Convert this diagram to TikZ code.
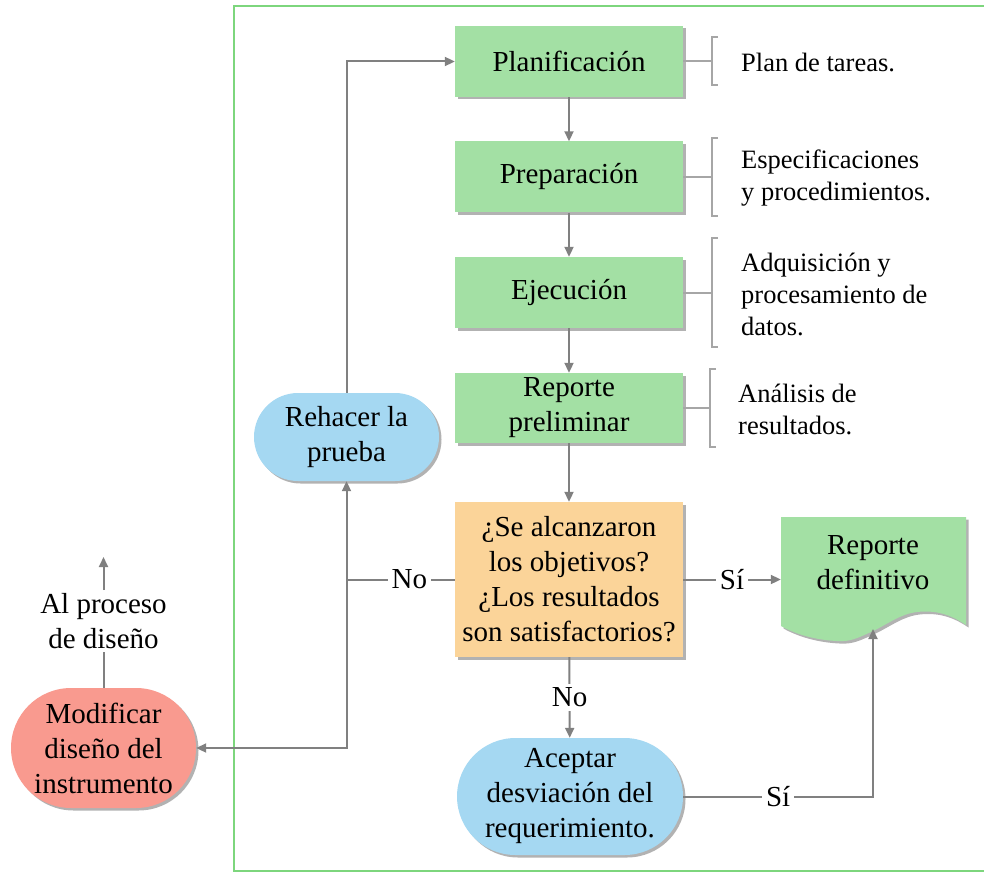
\documentclass[tikz,border=0pt]{standalone}
\usepackage{fontspec}
\setmainfont{Liberation Serif}
\usetikzlibrary{shadows,arrows.meta,shapes.misc}
\definecolor{gbox}{RGB}{163,224,164}
\definecolor{obox}{RGB}{251,212,153}
\definecolor{bbox}{RGB}{165,216,242}
\definecolor{rbox}{RGB}{249,154,143}
\definecolor{framec}{RGB}{125,214,125}
\definecolor{lgray}{RGB}{128,128,128}
\definecolor{bgray}{RGB}{166,166,166}
\begin{document}
\begin{tikzpicture}[x=1pt,y=-1pt,
  every node/.style={font=\fontsize{29}{35}\selectfont, inner sep=0pt},
  shd/.style={drop shadow={shadow xshift=2.5pt,shadow yshift=-2.5pt,opacity=0.3,fill=black}},
  box/.style={fill=gbox, minimum width=228pt, minimum height=71pt, align=center, shd},
  decbox/.style={fill=obox, minimum width=228pt, minimum height=155pt, align=center, shd},
  term/.style={rounded rectangle, align=center, shd},
  arr/.style={draw=lgray, line width=2pt, -{Triangle[length=10pt,width=9pt]}},
  ln/.style={draw=lgray, line width=2pt},
  brk/.style={draw=bgray, line width=2pt},
  note/.style={font=\fontsize{26.5}{32}\selectfont, align=left, anchor=west},
  lbl/.style={fill=white, inner sep=4pt}
]
\useasboundingbox (0,0) rectangle (984,877);
\draw[framec, line width=2pt] (984,6) -- (234,6) -- (234,871) -- (984,871);

% main boxes
\node[box] (plan) at (569,61.5) {Planificación};
\node[box] (prep) at (569,177) {Preparación};
\node[box] (ejec) at (569,292.5) {Ejecución};
\node[box, minimum height=70pt] (rep) at (569,408) {Reporte\\preliminar};
\node[decbox] (dec) at (569,579.5) {¿Se alcanzaron\\los objetivos?\\¿Los resultados\\son satisfactorios?};
\node[term, fill=bbox, minimum width=226pt, minimum height=117pt] (acep) at (570,796.5) {Aceptar\\desviación del\\requerimiento.};
\node[term, fill=bbox, minimum width=185pt, minimum height=88pt] (reh) at (346.5,437) {Rehacer la\\prueba};
\node[term, fill=rbox, minimum width=185pt, minimum height=120pt] (mod) at (103.5,748) {Modificar\\diseño del\\instrumento};
\node[align=center, inner sep=3pt] (alp) at (103.5,621) {Al proceso\\de diseño};
\coordinate (alpup) at (103.5,557);

% document shape
\path[fill=gbox, shd] (781,517) -- (966,517) -- (966,625)
  .. controls (950,614) and (935,610) .. (917,612)
  .. controls (900,614) and (888,624) .. (873,631)
  .. controls (858,638) and (850,642) .. (837,641)
  .. controls (815,640) and (795,634) .. (781,626) -- cycle;
\node[minimum width=185pt, minimum height=108pt] (rdef) at (873.5,571) {};
\node[align=center] (rdeft) at (873,563) {Reporte\\definitivo};
\coordinate (rdefb) at (873,629);

% annotations
\draw[brk] (plan.east) -- (712,61.5);
\draw[brk] (718,37) -- (712,37) -- (712,85) -- (718,85);
\node[note] (n1) at (741,62) {Plan de tareas.};
\draw[brk] (prep.east) -- (712,177);
\draw[brk] (718,138) -- (712,138) -- (712,216) -- (718,216);
\node[note] (n2) at (741,178) {Especificaciones\\y procedimientos.};
\draw[brk] (ejec.east) -- (712,292.5);
\draw[brk] (718,238) -- (712,238) -- (712,347) -- (718,347);
\node[note] (n3) at (741,294) {Adquisición y\\procesamiento de\\datos.};
\draw[brk] (rep.east) -- (710,408);
\draw[brk] (716,369) -- (710,369) -- (710,447) -- (716,447);
\node[note] (n4) at (738,409) {Análisis de\\resultados.};

% connectors
\draw[arr] (plan) -- (prep);
\draw[arr] (prep) -- (ejec);
\draw[arr] (ejec) -- (rep);
\draw[arr] (rep) -- (dec);
\draw[arr] (dec) -- node[lbl]{No} (acep);
\draw[arr] (dec.east) -- node[lbl]{Sí} (dec.east -| rdef.west);
\draw[arr] (acep.east) -- node[lbl]{Sí} (acep.east -| rdefb) -- (rdefb);
\coordinate (j1) at (346.5,579.5);
\draw[ln] (dec.west) -- node[lbl, pos=0.42]{No} (j1);
\draw[arr] (j1) -- (reh.south);
\draw[arr] (j1) |- (mod.east);
\draw[arr] (reh.north) |- (plan.west);
\draw[ln] (mod.north) -- (alp.south);
\draw[arr] (alp.north) -- (alpup);
\end{tikzpicture}
\end{document}
